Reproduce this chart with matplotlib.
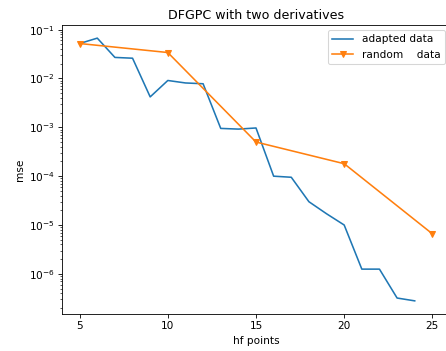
import matplotlib
matplotlib.use("Agg")
import matplotlib.pyplot as plt

# adapted sampling
hf_adapted = [5, 6, 7, 8, 9, 10, 11, 12, 13, 14, 15, 16, 17, 18, 19, 20, 21, 22, 23, 24]
mse_adapted = [0.052, 0.067, 0.027, 0.026, 0.0042, 0.0091, 0.0081, 0.0078,
               0.00095, 0.00092, 0.00097, 0.0001, 9.5e-5, 3.0e-5, 1.7e-5, 1.0e-5,
               1.25e-6, 1.25e-6, 3.2e-7, 2.8e-7]

# random sampling
hf_random = [5, 10, 15, 20, 25]
mse_random = [0.052, 0.034, 0.0005, 0.00018, 6.6e-6]

dpi = 76
fig = plt.figure(figsize=(446 / dpi, 351 / dpi), dpi=dpi)
ax = fig.add_axes([62 / 446, 37 / 351, 388 / 446, 289 / 351])

ax.plot(hf_adapted, mse_adapted, label="adapted data")
ax.plot(hf_random, mse_random, marker="v", label="random    data")
ax.set_yscale("log")
ax.set_title("DFGPC with two derivatives")
ax.set_xlabel("hf points")
ax.set_ylabel("mse")
ax.set_xticks([5, 10, 15, 20, 25])
ax.legend(loc="upper right")

fig.savefig("out.png", dpi=dpi)
